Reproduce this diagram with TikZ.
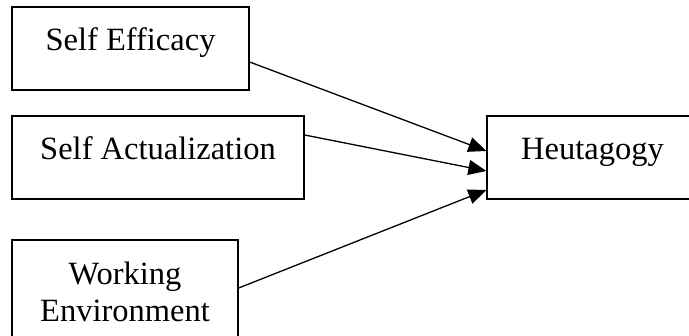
\documentclass[tikz,border=0pt]{standalone}
\usepackage{fontspec}
\setmainfont{Liberation Serif}
\usetikzlibrary{arrows.meta}

\begin{document}
\begin{tikzpicture}[x=1pt,y=1pt,
	box/.style={draw,line width=1.3pt,inner sep=0pt,font=\fontsize{32.5}{37}\selectfont,text height=22pt,text depth=17pt,minimum height=83pt},
	link/.style={line width=1.3pt,-{Triangle[length=18pt,width=15pt]}}]
	\useasboundingbox (0,0) rectangle (689,-336);
	\node[box,minimum width=237pt] (eff) at (130.5,-48.5) {Self Efficacy};
	\node[box,minimum width=292pt] (act) at (158,-157.5) {Self Actualization};
	\node[draw,line width=1.3pt,inner sep=0pt,font=\fontsize{32.5}{37}\selectfont,align=center,minimum width=226pt,minimum height=104pt] (env) at (125,-292) {Working\\Environment};
	\node[box,minimum width=211pt] (heu) at (592.5,-157.5) {Heutagogy};
	\path[link]
	([yshift=-13.5pt]eff.east) edge ([yshift=6.5pt]heu.west)
	([yshift=22.5pt]act.east) edge ([yshift=-13.5pt]heu.west)
	([yshift=4pt]env.east) edge ([yshift=-32.5pt]heu.west);
\end{tikzpicture}
\end{document}
